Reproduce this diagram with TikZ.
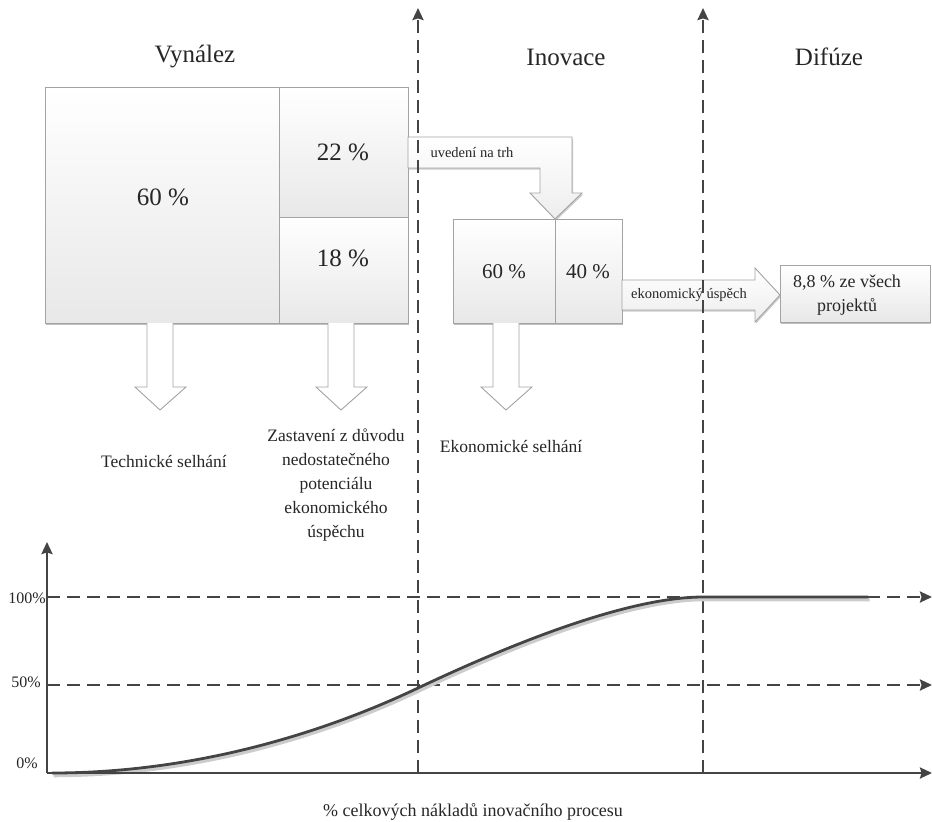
\documentclass[tikz,border=0pt]{standalone}
\usepackage{fontspec}
\setmainfont{Liberation Serif}
\usetikzlibrary{arrows.meta,shadows}
\definecolor{lc}{HTML}{444444}
\definecolor{bd}{HTML}{A3A3A3}
\definecolor{tx}{HTML}{262626}
\begin{document}
\begin{tikzpicture}[x=1pt,y=-1pt,
  box/.style={draw=bd, line width=0.9pt, top color=white, bottom color=black!9, inner sep=0pt,
    drop shadow={shadow xshift=1.2pt, shadow yshift=-1.5pt, opacity=0.25, fill=black}},
  barrow/.style={draw=bd, line width=0.9pt, top color=white, bottom color=black!7,
    drop shadow={shadow xshift=1.2pt, shadow yshift=-1.5pt, opacity=0.2, fill=black}},
  darrow/.style={draw=bd, line width=0.9pt, fill=white},
  dline/.style={draw=lc, line width=2.3pt, dash pattern=on 13pt off 7pt},
  axisline/.style={draw=lc, line width=2.3pt},
  tip/.style={-{Stealth[length=12pt,width=11pt,inset=1.5pt]}},
  big/.style={text=tx, font=\fontsize{25}{30}\selectfont},
  mid/.style={text=tx, font=\fontsize{17.5}{24}\selectfont, align=center},
  small/.style={text=tx, font=\fontsize{14.5}{18}\selectfont},
  lab/.style={text=tx, font=\fontsize{16}{19}\selectfont}
]
\useasboundingbox (0,0) rectangle (932,822);

% boxes
\node[box, minimum width=234pt, minimum height=236pt] (b60) at (162,205) {};
\node[box, minimum width=129pt, minimum height=130pt] (b22) at (343.5,152) {};
\node[box, minimum width=129pt, minimum height=106pt] (b18) at (343.5,270) {};

% arrow uvedeni na trh
\path[barrow] (408,137) -- (572,137) -- (572,193) -- (582,193) -- (555,219) -- (530,193) -- (540,193) -- (540,168) -- (408,168) -- cycle;

\node[box, minimum width=102pt, minimum height=104pt] (c60) at (504,271) {};
\node[box, minimum width=67pt, minimum height=104pt] (c40) at (588.5,271) {};

% arrow ekonomicky uspech
\path[barrow] (622,280) -- (755,280) -- (755,268) -- (780,295) -- (755,322) -- (755,310) -- (622,310) -- cycle;

\node[box, minimum width=150pt, minimum height=57pt] (d88) at (855,293.5) {};

% down arrows
\path[darrow] (147,323) -- (147,387) -- (135,387) -- (160,410) -- (186,387) -- (173,387) -- (173,323);
\path[darrow] (328,323) -- (328,387) -- (316,387) -- (341,410) -- (367,387) -- (354,387) -- (354,323);
\path[darrow] (493,323) -- (493,387) -- (481,387) -- (506,410) -- (532,387) -- (519,387) -- (519,323);

% texts in boxes
\node[big] (t60) at (163,197) {60 \%};
\node[big] (t22) at (343,152) {22 \%};
\node[big] (t18) at (343,258) {18 \%};
\node[big, font=\fontsize{21}{24}\selectfont] (u60) at (504,272) {60 \%};
\node[big, font=\fontsize{21}{24}\selectfont] (u40) at (588,272) {40 \%};
\node[mid, font=\fontsize{18}{24}\selectfont] (t88) at (847,295) {8,8 \% ze všech\\projektů};
\node[small] (tuv) at (472,153) {uvedení na trh};
\node[small] (tek) at (689,295) {ekonomický úspěch};

% titles
\node[big] (h1) at (195,57) {Vynález};
\node[big] (h2) at (566,57) {Inovace};
\node[big] (h3) at (829,57) {Difúze};

% failure labels
\node[mid] (f1) at (164,461) {Technické selhání};
\node[mid] (f2) at (336,485) {Zastavení z důvodu\\nedostatečného\\potenciálu\\ekonomického\\úspěchu};
\node[mid] (f3) at (511,446) {Ekonomické selhání};

% graph
\coordinate (O) at (47,773);
\coordinate (Ytop) at (47,542);
\coordinate (Xend) at (932,773);
\coordinate (H100a) at (47,597);
\coordinate (H100b) at (932,597);
\coordinate (H50a) at (47,685);
\coordinate (H50b) at (932,685);
\coordinate (V1a) at (418,773);
\coordinate (V1b) at (418,8);
\coordinate (V2a) at (703,773);
\coordinate (V2b) at (703,8);

\draw[dline, tip] (H100a) -- (H100b);
\draw[dline, tip] (H50a) -- (H50b);
\draw[dline, tip] (V1a) -- (V1b);
\draw[dline, tip] (V2a) -- (V2b);

% curve
\draw[black!20, line width=3.5pt, shift={(1.5,2.5)}] (52,773) .. controls (200,773) and (330,730) .. (418,688) .. controls (490,654) and (620,597) .. (703,597) -- (868,597);
\draw[lc, line width=2.8pt] (52,773) .. controls (200,773) and (330,730) .. (418,688) .. controls (490,654) and (620,597) .. (703,597) -- (868,597);

\draw[axisline, tip] (O) -- (Ytop);
\draw[axisline, tip] (O) -- (Xend);

\node[lab] (l100) at (27,598) {100\%};
\node[lab] (l50) at (26,682) {50\%};
\node[lab] (l0) at (27,763) {0\%};
\node[mid, font=\fontsize{18}{22}\selectfont] (xl) at (473,812) {\% celkových nákladů inovačního procesu};
\end{tikzpicture}
\end{document}
